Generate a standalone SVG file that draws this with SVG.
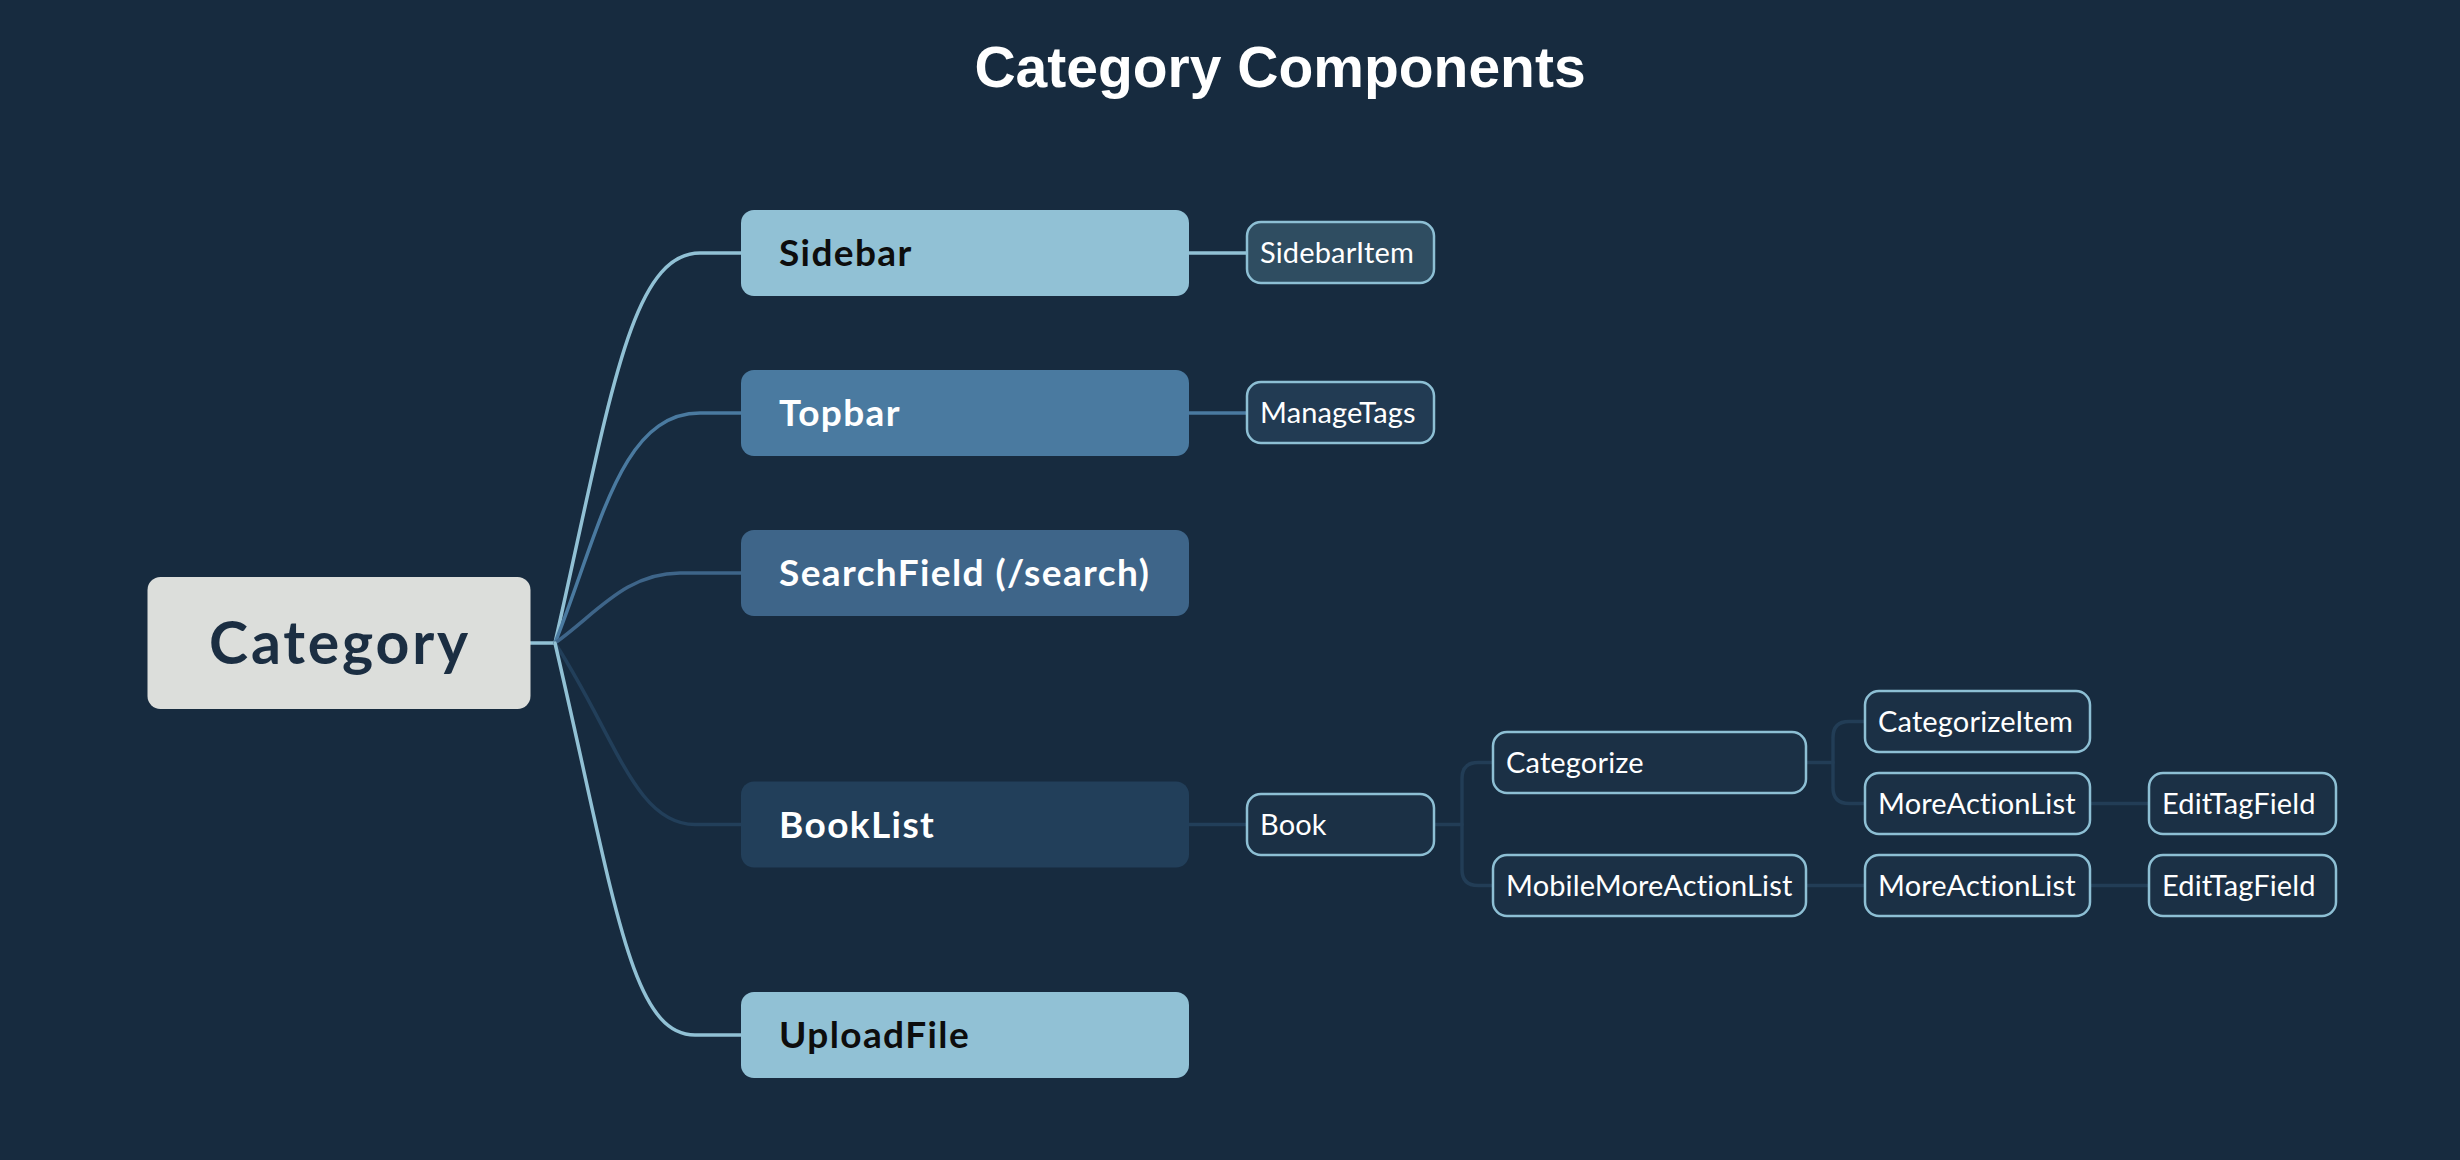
<svg xmlns="http://www.w3.org/2000/svg" width="2460" height="1160" viewBox="0 0 2460 1160">
<style>
.title{font-family:"Liberation Sans",Arial,sans-serif;font-weight:bold;font-size:57px;fill:#ffffff}
.big{font-family:Lato,"Noto Sans",sans-serif;font-weight:bold;font-size:37px;letter-spacing:1.4px}
.root{font-family:Lato,"Noto Sans",sans-serif;font-weight:bold;font-size:59px;fill:#1b2e42;letter-spacing:2.8px}
.sm{font-family:Lato,"Noto Sans",sans-serif;font-size:29px;fill:#ffffff;letter-spacing:0.15px}
.box{stroke:#8dbfd4;stroke-width:2.5}
.lk{fill:none;stroke-width:3.5;stroke-linecap:round}
.deep{stroke:#223d56}
</style>
<rect width="2460" height="1160" fill="#172b3f"/>
<text class="title" x="1280" y="87" text-anchor="middle">Category Components</text>
<g id="connectors">
<path class="lk" stroke="#91c1d5" d="M530,643 H555"/>
<path class="lk" stroke="#91c1d5" d="M555,643 C610,400 630,253 700,253 H741"/>
<path class="lk" stroke="#4a7aa0" d="M555,643 C600,530 620,413 700,413 H741"/>
<path class="lk" stroke="#3e6589" d="M555,643 C595,615 625,573 680,573 H741"/>
<path class="lk" stroke="#223f5a" d="M555,643 C615,735 635,824.5 695,824.5 H741"/>
<path class="lk" stroke="#91c1d5" d="M555,643 C615,900 630,1035 695,1035 H741"/>
<path class="lk" stroke="#91c1d5" stroke-width="4" d="M1189,253 H1246"/>
<path class="lk" stroke="#4a7aa0" stroke-width="4" d="M1189,413 H1246"/>
<path class="lk" stroke="#223f5a" stroke-width="4" d="M1189,824.5 H1246"/>
<path class="lk deep" d="M1435,824.5 H1462"/>
<path class="lk deep" d="M1492,762.5 H1478 Q1462,762.5 1462,778.5 V869.5 Q1462,885.5 1478,885.5 H1492"/>
<path class="lk deep" d="M1807,762.5 H1833"/>
<path class="lk deep" d="M1864,721.5 H1849 Q1833,721.5 1833,737.5 V787.5 Q1833,803.5 1849,803.5 H1864"/>
<path class="lk deep" d="M1807,885.5 H1864"/>
<path class="lk deep" d="M2091,803.5 H2148"/>
<path class="lk deep" d="M2091,885.5 H2148"/>
</g>
<g id="category">
<rect x="147.5" y="577" width="383" height="132" rx="13" fill="#dcdedb"/>
<text class="root" x="340" y="664" text-anchor="middle">Category</text>
</g>
<g id="sidebar">
<rect x="741" y="210" width="448" height="86" rx="13" fill="#91c1d5"/>
<text class="big" x="779" y="266" fill="#0d0d0d">Sidebar</text>
</g>
<g id="topbar">
<rect x="741" y="370" width="448" height="86" rx="13" fill="#4a7aa0"/>
<text class="big" x="779" y="426" fill="#ffffff">Topbar</text>
</g>
<g id="searchfield">
<rect x="741" y="530" width="448" height="86" rx="13" fill="#3e6589"/>
<text class="big" x="779" y="586" fill="#ffffff">SearchField (/search)</text>
</g>
<g id="booklist">
<rect x="741" y="781.5" width="448" height="86" rx="13" fill="#223f5a"/>
<text class="big" x="779" y="837.5" fill="#ffffff">BookList</text>
</g>
<g id="uploadfile">
<rect x="741" y="992" width="448" height="86" rx="13" fill="#91c1d5"/>
<text class="big" x="779" y="1048" fill="#0d0d0d">UploadFile</text>
</g>
<g id="sidebaritem">
<rect class="box" x="1247" y="222" width="187" height="61" rx="14" fill="#2f4d61"/>
<text class="sm" x="1260" y="262.5">SidebarItem</text>
</g>
<g id="managetags">
<rect class="box" x="1247" y="382" width="187" height="61" rx="14" fill="#223b53"/>
<text class="sm" x="1260" y="422.5">ManageTags</text>
</g>
<g id="book">
<rect class="box" x="1247" y="794" width="187" height="61" rx="14" fill="#1b3045"/>
<text class="sm" x="1260" y="834.5">Book</text>
</g>
<g id="categorize">
<rect class="box" x="1493" y="732" width="313" height="61" rx="14" fill="#1b3045"/>
<text class="sm" x="1506" y="772.5">Categorize</text>
</g>
<g id="mobilemoreactionlist">
<rect class="box" x="1493" y="855" width="313" height="61" rx="14" fill="#1b3045"/>
<text class="sm" x="1506" y="895.5">MobileMoreActionList</text>
</g>
<g id="categorizeitem">
<rect class="box" x="1865" y="691" width="225" height="61" rx="14" fill="#1b3045"/>
<text class="sm" x="1878" y="731.5">CategorizeItem</text>
</g>
<g id="moreactionlist1">
<rect class="box" x="1865" y="773" width="225" height="61" rx="14" fill="#1b3045"/>
<text class="sm" x="1878" y="813.5">MoreActionList</text>
</g>
<g id="edittagfield1">
<rect class="box" x="2149" y="773" width="187" height="61" rx="14" fill="#1b3045"/>
<text class="sm" x="2162" y="813.5">EditTagField</text>
</g>
<g id="moreactionlist2">
<rect class="box" x="1865" y="855" width="225" height="61" rx="14" fill="#1b3045"/>
<text class="sm" x="1878" y="895.5">MoreActionList</text>
</g>
<g id="edittagfield2">
<rect class="box" x="2149" y="855" width="187" height="61" rx="14" fill="#1b3045"/>
<text class="sm" x="2162" y="895.5">EditTagField</text>
</g>
</svg>
